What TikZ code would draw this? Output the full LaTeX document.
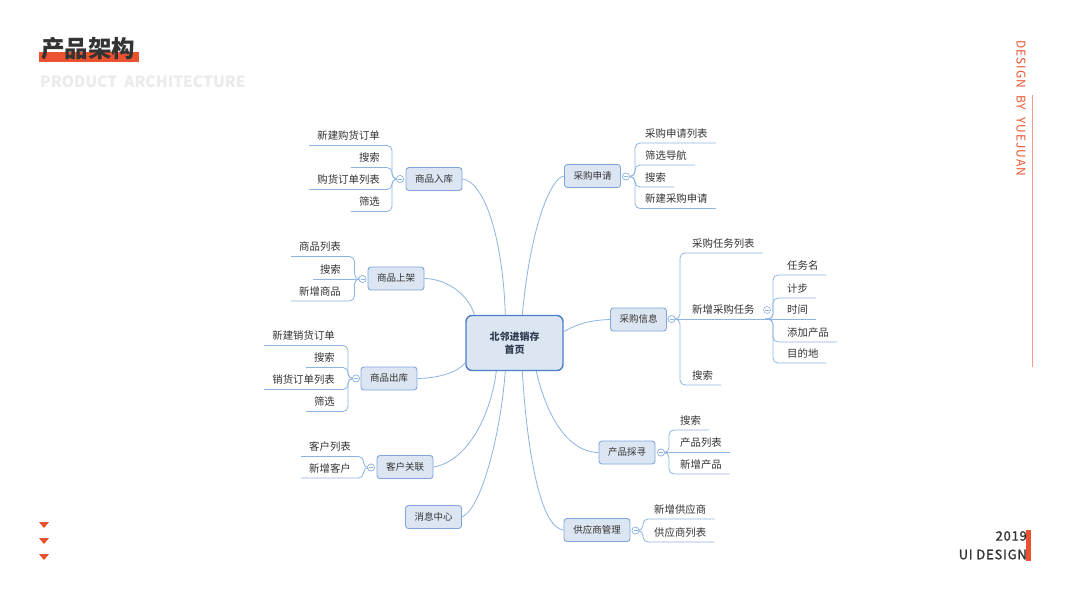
\documentclass[tikz,border=0pt]{standalone}
\usepackage{fontspec}
\setmainfont{Noto Sans CJK SC}
\newfontfamily\widefont[LetterSpace=8]{Noto Sans CJK SC}
\newfontfamily\widemedium[LetterSpace=6,FakeBold=1.2]{Noto Sans CJK SC}
\usetikzlibrary{calc}
\definecolor{accent}{HTML}{EA5230}
\definecolor{accentlight}{HTML}{F19A85}
\definecolor{nodefill}{HTML}{DCE6F2}
\definecolor{nodeborder}{HTML}{7FA7DC}
\definecolor{hubborder}{HTML}{4A7EC8}
\definecolor{linkblue}{HTML}{8DB3E2}
\definecolor{textdark}{HTML}{333333}
\definecolor{hubtext}{HTML}{2F3B4F}
\definecolor{ghost}{HTML}{EBEBEB}
\tikzset{
  branch/.style={draw=nodeborder, fill=nodefill, line width=0.9pt, rounded corners=3pt,
    minimum height=23pt, minimum width=56pt, inner xsep=8pt, inner ysep=0pt, text=textdark,
    font=\fontsize{9.5}{11}\selectfont, text height=8pt, text depth=1.2pt},
  hub/.style={draw=hubborder, fill=nodefill, line width=1.4pt, rounded corners=6pt,
    minimum width=97pt, minimum height=55pt, align=center, text=hubtext,
    font=\bfseries\fontsize{10}{13}\selectfont},
  leafL/.style={anchor=east, inner sep=0pt, text=textdark, font=\fontsize{10.4}{12}\selectfont,
    text height=8.8pt, text depth=1.2pt},
  leafR/.style={leafL, anchor=west},
  link/.style={draw=linkblue, line width=0.8pt},
  leafline/.style={link, rounded corners=5pt},
  toggle/.style={circle, draw=linkblue, fill=white, line width=0.6pt, minimum size=7pt, inner sep=0pt,
    path picture={\draw[linkblue, line width=0.5pt] ([xshift=-2pt]path picture bounding box.center) -- ([xshift=2pt]path picture bounding box.center);}},
  marker/.style={fill=accent, draw=none},
}
\begin{document}
\begin{tikzpicture}[x=1pt, y=-1pt]
\fill[white] (0,0) rectangle (1067,600);
\useasboundingbox (0,0) rectangle (1067,600);

% ---------- header ----------
\fill[marker] (39,52) rectangle (139,62);
\node[anchor=west, inner sep=0pt, text=textdark, font=\bfseries\fontsize{23.5}{25}\selectfont] (title) at (41,48.5) {产品架构};
\node[anchor=west, inner sep=0pt, text=ghost, font=\bfseries\fontsize{15.5}{18}\selectfont] (subtitle) at (40,81.5) {PRODUCT\ \ ARCHITECTURE};

% ---------- right decoration ----------
\draw[accentlight, line width=1pt] (1032,95) -- (1032,367);
\node[anchor=west, rotate=-90, inner sep=0pt, text=accent, font=\widefont\fontsize{12}{14}\selectfont] (sign) at (1021,40) {DESIGN\ \ BY\ \ YUEJUAN};
\fill[marker] (1026,530) rectangle (1031,561);
\node[anchor=east, inner sep=0pt, text=textdark, font=\widemedium\fontsize{13}{15}\selectfont] (year) at (1027,536) {2019};
\node[anchor=east, inner sep=0pt, text=textdark, font=\widemedium\fontsize{13}{15}\selectfont] (uid) at (1027,554.5) {UI\ DESIGN};

% ---------- left markers ----------
\fill[marker] (39,522) -- (49,522) -- (44,528) -- cycle;
\fill[marker] (39,538) -- (49,538) -- (44,544) -- cycle;
\fill[marker] (39,554) -- (49,554) -- (44,560) -- cycle;

% ---------- hub and branches ----------
\node[hub] (hub) at (514.5,343) {北邻进销存\\首页};

\node[branch] (rk) at (434,179) {商品入库};
\node[branch] (sj) at (396,278.5) {商品上架};
\node[branch] (ck) at (389,378.5) {商品出库};
\node[branch] (kh) at (405,467) {客户关联};
\node[branch] (xx) at (433.5,517) {消息中心};
\node[branch] (cg) at (592.5,176) {采购申请};
\node[branch] (cx) at (638.5,319.5) {采购信息};
\node[branch] (cc) at (627,452.5) {产品採寻};
\node[branch, minimum width=66pt] (gy) at (597,530) {供应商管理};

% connectors hub -> branches
\draw[link] (rk.east) .. controls (485,182) and (503,240) .. ($(hub.north west)+(40,0)$);
\draw[link] (cg.west) .. controls (550,178) and (530,230) .. ($(hub.north west)+(57,0)$);
\draw[link] (sj.east) .. controls (450,279) and (470,298) .. ($(hub.north west)+(9,0)$);
\draw[link] (ck.east) .. controls (440,378) and (458,372) .. ($(hub.south west)+(0,-8.5)$);
\draw[link] ($(hub.north east)+(0,17)$) .. controls (580,322) and (595,320) .. (cx.west);
\draw[link] (kh.east) .. controls (465,462) and (490,420) .. ($(hub.south west)+(31,0)$);
\draw[link] (xx.east) .. controls (480,510) and (500,440) .. ($(hub.south west)+(40,0)$);
\draw[link] ($(hub.south west)+(71,0)$) .. controls (545,410) and (565,452) .. (cc.west);
\draw[link] ($(hub.south west)+(57,0)$) .. controls (527,450) and (540,528) .. (gy.west);

% ---------- toggles (positions) ----------
\node[toggle] (ta) at (400,179) {};
\node[toggle] (tb) at (362.5,279) {};
\node[toggle] (tc) at (356,378.5) {};
\node[toggle] (td) at (371,467.5) {};
\node[toggle] (tf) at (626,176.5) {};
\node[toggle] (tg) at (671.5,319) {};
\node[toggle] (ti) at (661,452.5) {};
\node[toggle] (tj) at (635.5,530.5) {};

% ---------- leaves: 商品入库 ----------
\foreach \nm/\txt/\yy in {a1/新建购货订单/136, a2/搜索/158, a3/购货订单列表/180, a4/筛选/202}
  \node[leafL] (\nm) at (380,\yy) {\txt};
\foreach \nm in {a1,a2,a3,a4}
  \draw[leafline] (ta.west) -- (392,179) |- ([xshift=-8pt,yshift=-9.5pt]\nm.west);

% ---------- leaves: 商品上架 ----------
\foreach \nm/\txt/\yy in {b1/商品列表/247, b2/搜索/269.5, b3/新增商品/291.5}
  \node[leafL] (\nm) at (341,\yy) {\txt};
\foreach \nm in {b1,b3}
  \draw[leafline] (tb.west) -- (354.5,279) |- ([xshift=-8pt,yshift=-9.5pt]\nm.west);
\draw[link] (tb.west) -- ([xshift=-7pt,yshift=-9.5pt]b2.west);

% ---------- leaves: 商品出库 ----------
\foreach \nm/\txt/\yy in {c1/新建销货订单/336, c2/搜索/358, c3/销货订单列表/380, c4/筛选/402}
  \node[leafL] (\nm) at (335,\yy) {\txt};
\foreach \nm in {c1,c2,c3,c4}
  \draw[leafline] (tc.west) -- (348,378.5) |- ([xshift=-8pt,yshift=-9.5pt]\nm.west);

% ---------- leaves: 客户关联 ----------
\foreach \nm/\txt/\yy in {d1/客户列表/447, d2/新增客户/468.5}
  \node[leafL] (\nm) at (351,\yy) {\txt};
\foreach \nm in {d1,d2}
  \draw[leafline] (td.west) -- (363.5,467.5) |- ([xshift=-8pt,yshift=-9.5pt]\nm.west);

% ---------- leaves: 采购申请 ----------
\foreach \nm/\txt/\yy in {f1/采购申请列表/133.5, f2/筛选导航/155.5, f3/搜索/177.5, f4/新建采购申请/199}
  \node[leafR] (\nm) at (645,\yy) {\txt};
\foreach \nm in {f1,f2,f3,f4}
  \draw[leafline] (tf.east) -- (635,176.5) |- ([xshift=8pt,yshift=-9.5pt]\nm.east);

% ---------- leaves: 采购信息 ----------
\foreach \nm/\txt/\yy in {g1/采购任务列表/243.5, g2/新增采购任务/309.5, g3/搜索/375.5}
  \node[leafR] (\nm) at (692,\yy) {\txt};
\foreach \nm/\txt/\yy in {h1/任务名/265.5, h2/计步/288.5, h3/时间/309.5, h4/添加产品/332.5, h5/目的地/353.5}
  \node[leafR] (\nm) at (787,\yy) {\txt};
\foreach \nm in {g1,g3}
  \draw[leafline] (tg.east) -- (680,319) |- ([xshift=8pt,yshift=-9.5pt]\nm.east);
\draw[link] (tg.east) -- ([xshift=8pt,yshift=-9.5pt]h3.east);
\coordinate (hroot) at (765,319);
\foreach \nm in {h1,h2,h4,h5}
  \draw[leafline] (hroot) -- (773,319) |- ([xshift=8pt,yshift=-9.5pt]\nm.east);
\node[toggle] (th) at (767,310) {};

% ---------- leaves: 产品採寻 ----------
\foreach \nm/\txt/\yy in {i1/搜索/420.5, i2/产品列表/443, i3/新增产品/464.5}
  \node[leafR] (\nm) at (680,\yy) {\txt};
\foreach \nm in {i1,i3}
  \draw[leafline] (ti.east) -- (669,452.5) |- ([xshift=8pt,yshift=-9.5pt]\nm.east);
\draw[link] (ti.east) -- ([xshift=8pt,yshift=-9.5pt]i2.east);

% ---------- leaves: 供应商管理 ----------
\foreach \nm/\txt/\yy in {j1/新增供应商/509.5, j2/供应商列表/532.5}
  \node[leafR] (\nm) at (654,\yy) {\txt};
\foreach \nm in {j1,j2}
  \draw[leafline] (tj.east) -- (643,530.5) |- ([xshift=8pt,yshift=-9.5pt]\nm.east);

% redraw toggles on top of lines
\foreach \tt in {ta,tb,tc,td,tf,tg,ti,tj}
  \node[toggle] at (\tt) {};
\end{tikzpicture}
\end{document}
